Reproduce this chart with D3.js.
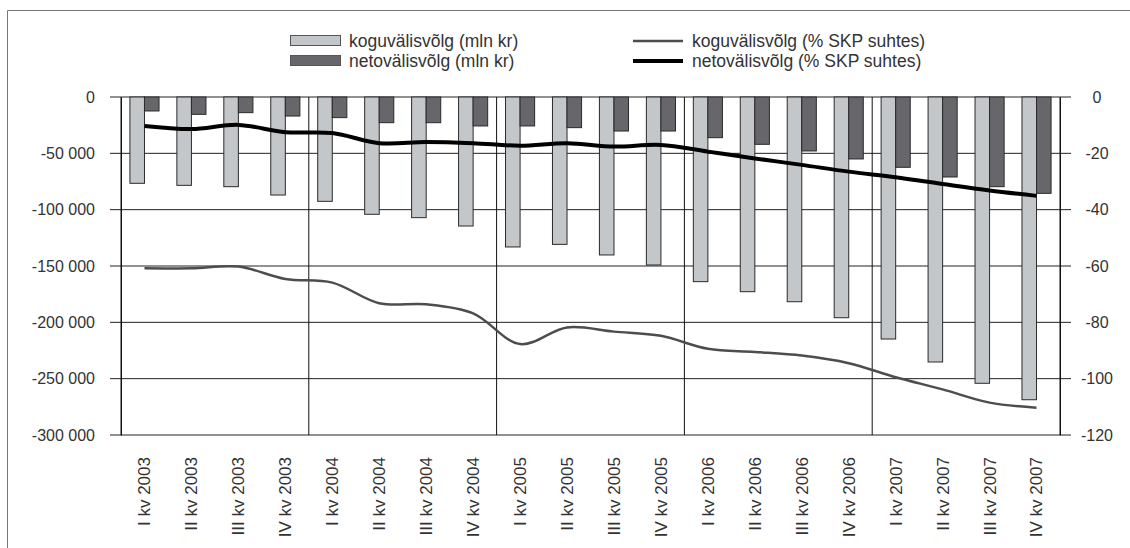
<!DOCTYPE html>
<html>
<head>
<meta charset="utf-8">
<script src="https://cdn.jsdelivr.net/npm/d3@7"></script>
<style>
	body { margin: 0; background: #fff; }
	svg { display: block; font-family: "Liberation Sans", Arial, sans-serif; }
	.tick text { fill: #333; }
</style>
</head>
<body>
<script>
var categories = [
	"I kv 2003", "II kv 2003", "III kv 2003", "IV kv 2003",
	"I kv 2004", "II kv 2004", "III kv 2004", "IV kv 2004",
	"I kv 2005", "II kv 2005", "III kv 2005", "IV kv 2005",
	"I kv 2006", "II kv 2006", "III kv 2006", "IV kv 2006",
	"I kv 2007", "II kv 2007", "III kv 2007", "IV kv 2007"
];

// koguvälisvõlg (mln kr)
var grossMln = [-76600, -78400, -79600, -87000, -92600, -104100, -107100, -114500,
	-133100, -130800, -140200, -149100, -163900, -172800, -181700, -195900,
	-214800, -235200, -254100, -268700];
// netovälisvõlg (mln kr)
var netMln = [-12400, -15400, -13900, -16900, -18300, -22800, -22800, -25700,
	-25700, -27200, -30200, -30200, -36100, -42000, -47900, -55000,
	-62400, -71000, -79600, -85500];
// koguvälisvõlg (% SKP suhtes)
var grossPct = [-60.8, -60.8, -60.2, -64.6, -65.9, -73.2, -73.6, -76.8,
	-87.7, -81.8, -83.3, -84.8, -89.4, -90.5, -91.8, -94.5,
	-99.5, -103.8, -108.5, -110.3];
// netovälisvõlg (% SKP suhtes)
var netPct = [-10.3, -11.4, -9.9, -12.5, -12.8, -16.4, -16.0, -16.4,
	-17.3, -16.4, -17.6, -17.0, -19.4, -21.8, -24.1, -26.5,
	-28.5, -30.9, -33.2, -35.1];

var leftTicks = [0, -50000, -100000, -150000, -200000, -250000, -300000];
var rightTicks = [0, -20, -40, -60, -80, -100, -120];

var legendItems = [
	{label: "koguvälisvõlg (mln kr)", type: "bar", fill: "#c4c7ca"},
	{label: "netovälisvõlg (mln kr)", type: "bar", fill: "#67666b"},
	{label: "koguvälisvõlg (% SKP suhtes)", type: "line", stroke: "#4d4d4d", width: 2.5},
	{label: "netovälisvõlg (% SKP suhtes)", type: "line", stroke: "#000", width: 4}
];

var width = 1130, height = 548;
var plotL = 121, plotR = 1060, plotT = 97, plotB = 435;

var svg = d3.select("body").append("svg")
	.attr("width", width)
	.attr("height", height);

// frame
svg.append("path")
	.attr("d", "M7.5," + height + "V10.5H" + width)
	.attr("fill", "none")
	.attr("stroke", "#777");

var x0 = d3.scaleBand()
	.domain(categories)
	.range([plotL, plotR])
	.paddingInner(0.38)
	.paddingOuter(0.19);

var x1 = d3.scaleBand()
	.domain(["gross", "net"])
	.range([0, x0.bandwidth()]);

var yL = d3.scaleLinear().domain([-300000, 0]).range([plotB, plotT]);
var yR = d3.scaleLinear().domain([-120, 0]).range([plotB, plotT]);

var loc = d3.formatLocale({decimal: ",", thousands: " ", grouping: [3], currency: ["", ""], minus: "-"});
var fmt = loc.format(",");

// horizontal grid
svg.append("g")
	.selectAll("line")
	.data(leftTicks)
	.enter().append("line")
	.attr("x1", plotL - 11)
	.attr("x2", plotR + 11)
	.attr("y1", function(d){ return yL(d); })
	.attr("y2", function(d){ return yL(d); })
	.attr("stroke", "#222");

// year separators
var seps = categories.filter(function(d, i){ return i % 4 == 0; });
svg.append("g")
	.selectAll("line")
	.data(seps.concat(["end"]))
	.enter().append("line")
	.attr("x1", function(d){ return d == "end" ? plotR : x0(d) - x0.step() * 0.19; })
	.attr("x2", function(d){ return d == "end" ? plotR : x0(d) - x0.step() * 0.19; })
	.attr("y1", plotT)
	.attr("y2", plotB)
	.attr("stroke", "#111");

// bars
var series = [
	{key: "gross", values: grossMln, fill: "#c4c7ca"},
	{key: "net", values: netMln, fill: "#67666b"}
];

series.forEach(function(s){
	svg.append("g")
		.attr("class", "bars-" + s.key)
		.selectAll("rect")
		.data(s.values)
		.enter().append("rect")
		.attr("x", function(d, i){ return x0(categories[i]) + x1(s.key); })
		.attr("width", x1.bandwidth())
		.attr("y", yL(0))
		.attr("height", function(d){ return yL(d) - yL(0); })
		.attr("fill", s.fill)
		.attr("stroke", "#2a2a2a")
		.attr("stroke-width", 1);
});

// lines on right axis
var line = d3.line()
	.x(function(d, i){ return x0(categories[i]) + x0.bandwidth() / 2; })
	.y(function(d){ return yR(d); })
	.curve(d3.curveCatmullRom.alpha(0.5));

svg.append("path")
	.datum(grossPct)
	.attr("d", line)
	.attr("fill", "none")
	.attr("stroke", "#4d4d4d")
	.attr("stroke-width", 2.5);

svg.append("path")
	.datum(netPct)
	.attr("d", line)
	.attr("fill", "none")
	.attr("stroke", "#000")
	.attr("stroke-width", 4);

// left axis
var axL = svg.append("g")
	.attr("transform", "translate(" + plotL + ",0)")
	.call(d3.axisLeft(yL).tickValues(leftTicks).tickSize(0).tickPadding(26).tickFormat(fmt));
axL.select(".domain").attr("stroke", "#111");
axL.selectAll("text").style("font-size", "16px");

// right axis
var axR = svg.append("g")
	.attr("transform", "translate(" + plotR + ",0)")
	.call(d3.axisRight(yR).tickValues(rightTicks).tickSize(0).tickFormat(function(d){ return d; }));
axR.select(".domain").attr("stroke", "#111");
axR.selectAll("text")
	.attr("x", 37)
	.attr("text-anchor", "middle")
	.style("font-size", "16px");

// category labels
svg.append("g")
	.selectAll("text")
	.data(categories)
	.enter().append("text")
	.attr("transform", function(d){
		return "translate(" + (x0(d) + x0.bandwidth() / 2) + ",457) rotate(-90)";
	})
	.attr("text-anchor", "end")
	.attr("dy", "0.35em")
	.attr("fill", "#333")
	.style("font-size", "17px")
	.text(function(d){ return d; });

// legend
var legend = svg.append("g").attr("class", "legend");
legendItems.forEach(function(item, i){
	var col = i < 2 ? 0 : 1;
	var row = i % 2;
	var lx = col == 0 ? 290 : 633;
	var ly = 41 + row * 20;
	var g = legend.append("g");
	if(item.type == "bar"){
		g.append("rect")
			.attr("x", lx + 0.5).attr("y", ly - 5.5)
			.attr("width", 50).attr("height", 10)
			.attr("fill", item.fill)
			.attr("stroke", "#555");
	} else {
		g.append("line")
			.attr("x1", lx).attr("x2", lx + 50)
			.attr("y1", ly).attr("y2", ly)
			.attr("stroke", item.stroke)
			.attr("stroke-width", item.width);
	}
	g.append("text")
		.attr("x", lx + 59)
		.attr("y", ly)
		.attr("dy", "0.35em")
		.attr("fill", "#333")
		.style("font-size", "17.5px")
		.text(item.label);
});
</script>
</body>
</html>
